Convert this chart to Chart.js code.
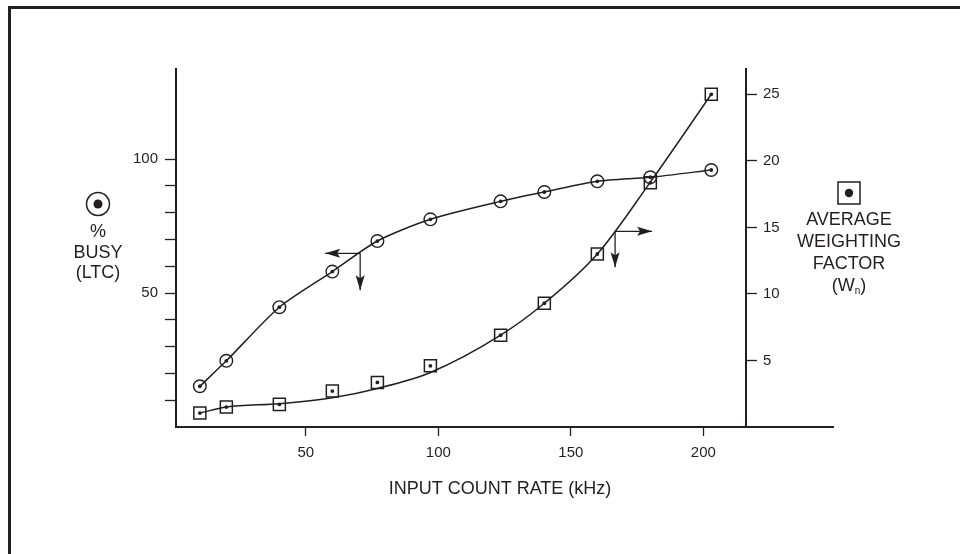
<!DOCTYPE html>
<html>
<head>
<meta charset="utf-8">
<title>% Busy and Average Weighting Factor vs Input Count Rate</title>
<script src="https://cdn.jsdelivr.net/npm/chart.js@4.4.1/dist/chart.umd.min.js"></script>
<style>
  html, body { margin: 0; padding: 0; background: #fff; }
  #wrap { width: 960px; height: 554px; }
</style>
</head>
<body>
<div id="wrap"><canvas id="chart" width="960" height="554"></canvas></div>
<script>
// Input count rate (kHz) of each measured point
const inputRate = [10, 20, 40, 60, 77, 97, 123.5, 140, 160, 180, 203];
// % busy (LTC), circles, left axis
const busyPct = [15.2, 24.7, 44.7, 58, 69.4, 77.5, 84.2, 87.7, 91.7, 93.2, 95.9];
// average weighting factor Wn, squares, right axis
const weightPoints = [1.05, 1.5, 1.7, 2.7, 3.35, 4.6, 6.9, 9.3, 13.0, 18.35, 25.0];
// the smooth curve drawn through the squares (it runs under a few of them)
const weightCurve = [1.05, 1.5, 1.75, 2.2, 2.9, 4.1, 6.9, 9.3, 13.0, 18.4, 25.0];

// ticks
const rateTicks = [50, 100, 150, 200];
const busyTicks = [10, 20, 30, 40, 50, 60, 70, 80, 90, 100];
const busyTickLabels = [50, 100];
const weightTicks = [5, 10, 15, 20, 25];

// axis ranges
const rateMin = 1;
const rateRightAxis = 216.1;   // where the Wn axis stands
const rateAxisEnd = 249.3;     // x axis line runs on past it
const busyMax = 133.6;
const weightMax = 26.9;

// arrows showing which curve belongs to which axis
const busyArrow = { x: 70.5, y: 64.8 };
const weightArrow = { x: 166.7, y: 14.7 };

const ink = '#231f20';
const fontFamily = '"Liberation Sans", Arial, Helvetica, sans-serif';

function drawArrow(ctx, x0, y0, x1, y1) {
  ctx.beginPath();
  ctx.moveTo(x0, y0);
  ctx.lineTo(x1, y1);
  ctx.stroke();
  const a = Math.atan2(y1 - y0, x1 - x0);
  ctx.save();
  ctx.translate(x1, y1);
  ctx.rotate(a);
  ctx.beginPath();
  ctx.moveTo(0, 0);
  ctx.lineTo(-15, -4.5);
  ctx.lineTo(-12, 0);
  ctx.lineTo(-15, 4.5);
  ctx.closePath();
  ctx.fill();
  ctx.restore();
}

// frame, axis extension, arrows and the axis captions
const decorations = {
  id: 'decorations',
  afterDraw(chart) {
    const { ctx, chartArea, scales } = chart;
    const x = scales.x, yBusy = scales.yBusy, yWeight = scales.yWeight;
    ctx.save();
    ctx.strokeStyle = ink;
    ctx.fillStyle = ink;

    // page frame (top and left edges)
    ctx.lineWidth = 3;
    ctx.beginPath();
    ctx.moveTo(9.5, 554);
    ctx.lineTo(9.5, 7.5);
    ctx.lineTo(960, 7.5);
    ctx.stroke();

    // x axis continues beyond the right axis
    ctx.lineWidth = 2;
    ctx.beginPath();
    ctx.moveTo(chartArea.right, x.top);
    ctx.lineTo(x.getPixelForValue(rateAxisEnd), x.top);
    ctx.stroke();

    // arrows
    ctx.lineWidth = 1.3;
    let ax = x.getPixelForValue(busyArrow.x), ay = yBusy.getPixelForValue(busyArrow.y);
    drawArrow(ctx, ax, ay, ax - 35, ay);
    drawArrow(ctx, ax, ay, ax, ay + 37);
    ax = x.getPixelForValue(weightArrow.x);
    ay = yWeight.getPixelForValue(weightArrow.y);
    drawArrow(ctx, ax, ay, ax + 37, ay);
    drawArrow(ctx, ax, ay, ax, ay + 36);

    ctx.font = '18px ' + fontFamily;
    ctx.textAlign = 'center';
    ctx.textBaseline = 'middle';

    // left caption
    ctx.lineWidth = 1.5;
    ctx.beginPath();
    ctx.arc(98, 204, 11.5, 0, Math.PI * 2);
    ctx.stroke();
    ctx.beginPath();
    ctx.arc(98, 204, 4.5, 0, Math.PI * 2);
    ctx.fill();
    ctx.fillText('%', 98, 232);
    ctx.fillText('BUSY', 98, 253);
    ctx.fillText('(LTC)', 98, 273.5);

    // right caption
    ctx.strokeRect(838, 182, 22, 22);
    ctx.beginPath();
    ctx.arc(849, 193, 4.2, 0, Math.PI * 2);
    ctx.fill();
    ctx.fillText('AVERAGE', 849, 220);
    ctx.fillText('WEIGHTING', 849, 242);
    ctx.fillText('FACTOR', 849, 264);
    // (Wn) with subscript n
    const wA = ctx.measureText('(W').width;
    const wC = ctx.measureText(')').width;
    ctx.font = '10px ' + fontFamily;
    const wB = ctx.measureText('n').width;
    let sx = 849 - (wA + wB + wC) / 2;
    ctx.textAlign = 'left';
    ctx.font = '18px ' + fontFamily;
    ctx.fillText('(W', sx, 286);
    ctx.font = '10px ' + fontFamily;
    ctx.fillText('n', sx + wA, 291);
    ctx.font = '18px ' + fontFamily;
    ctx.fillText(')', sx + wA + wB, 286);

    // x caption
    ctx.textAlign = 'center';
    ctx.fillText('INPUT COUNT RATE (kHz)', 500, 489);
    ctx.restore();
  }
};

const toPoints = (ys) => inputRate.map((r, i) => ({ x: r, y: ys[i] }));

const tickFont = { family: fontFamily, size: 15 };
const axisGrid = (len) => ({
  drawOnChartArea: false,
  drawTicks: true,
  tickLength: len,
  tickWidth: 1.3,
  tickColor: ink,
  color: ink
});
const axisBorder = { color: ink, width: 2 };

const dotStyle = {
  showLine: false,
  pointStyle: 'circle',
  pointRadius: 1.9,
  pointBorderWidth: 0,
  pointBackgroundColor: ink
};

const ctx = document.getElementById('chart').getContext('2d');
new Chart(ctx, {
  type: 'scatter',
  data: {
    datasets: [{
      label: '% Busy (LTC)',
      data: toPoints(busyPct),
      yAxisID: 'yBusy',
      showLine: true,
      tension: 0.25,
      borderColor: ink,
      borderWidth: 1.5,
      pointStyle: 'circle',
      pointRadius: 6.3,
      pointBorderWidth: 1.4,
      pointBorderColor: ink,
      pointBackgroundColor: 'rgba(0,0,0,0)'
    }, {
      label: '% Busy dots',
      data: toPoints(busyPct),
      yAxisID: 'yBusy',
      ...dotStyle
    }, {
      label: 'Wn curve',
      data: toPoints(weightCurve),
      yAxisID: 'yWeight',
      showLine: true,
      cubicInterpolationMode: 'monotone',
      borderColor: ink,
      borderWidth: 1.5,
      pointRadius: 0
    }, {
      label: 'Average weighting factor (Wn)',
      data: toPoints(weightPoints),
      yAxisID: 'yWeight',
      showLine: false,
      pointStyle: 'rect',
      pointRadius: 8.5,
      pointBorderWidth: 1.5,
      pointBorderColor: ink,
      pointBackgroundColor: 'rgba(0,0,0,0)'
    }, {
      label: 'Wn dots',
      data: toPoints(weightPoints),
      yAxisID: 'yWeight',
      ...dotStyle
    }]
  },
  options: {
    responsive: false,
    animation: false,
    events: [],
    clip: false,
    layout: { padding: { top: 69, left: 0, right: 0, bottom: 0 } },
    plugins: {
      legend: { display: false },
      tooltip: { enabled: false }
    },
    scales: {
      x: {
        type: 'linear',
        min: rateMin,
        max: rateRightAxis,
        grid: axisGrid(9),
        border: axisBorder,
        afterBuildTicks: (s) => { s.ticks = rateTicks.map(v => ({ value: v })); },
        afterFit: (s) => { s.height = 127; },
        ticks: { color: ink, font: tickFont, padding: 8, maxRotation: 0 }
      },
      yBusy: {
        type: 'linear',
        position: 'left',
        min: 0,
        max: busyMax,
        grid: axisGrid(11),
        border: axisBorder,
        afterBuildTicks: (s) => { s.ticks = busyTicks.map(v => ({ value: v })); },
        afterFit: (s) => { s.width = 176; },
        ticks: {
          color: ink,
          font: tickFont,
          padding: 7,
          callback: (v) => busyTickLabels.includes(v) ? String(v) : ''
        }
      },
      yWeight: {
        type: 'linear',
        position: 'right',
        min: 0,
        max: weightMax,
        grid: axisGrid(11),
        border: axisBorder,
        afterBuildTicks: (s) => { s.ticks = weightTicks.map(v => ({ value: v })); },
        afterFit: (s) => { s.width = 214; },
        ticks: { color: ink, font: tickFont, padding: 6 }
      }
    }
  },
  plugins: [decorations]
});
</script>
</body>
</html>
